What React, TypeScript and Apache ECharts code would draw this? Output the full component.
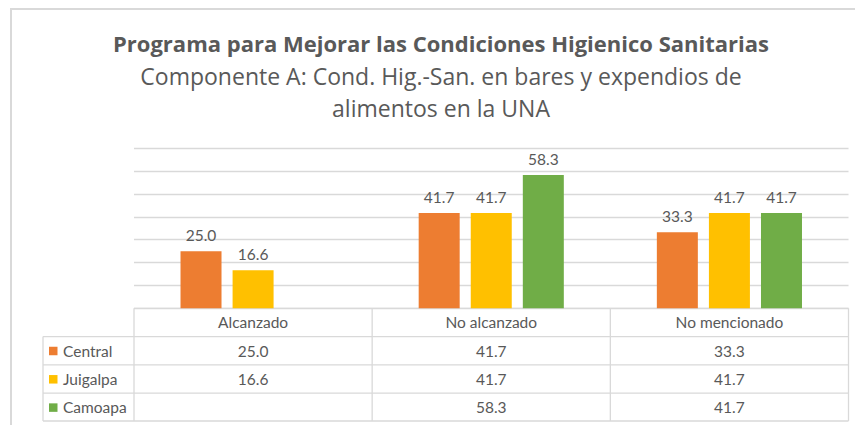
import React, { useEffect, useRef } from "react";
import * as echarts from "echarts";

const titleText = "Programa para Mejorar las Condiciones Higienico Sanitarias";
const subtitleLines = ["Componente A: Cond. Hig.-San. en bares y expendios de", "alimentos en la UNA"];
const categories = ["Alcanzado", "No alcanzado", "No mencionado"];
const seriesNames = ["Central", "Juigalpa", "Camoapa"];
const central = [25.0, 41.7, 33.3];
const juigalpa = [16.6, 41.7, 41.7];
const camoapa: (number | null)[] = [null, 58.3, 41.7];
const seriesColors = ["#ED7D31", "#FFC000", "#70AD47"];

const FONT = "Lato";
const TITLE_FONT = "'Open Sans'";
const TEXT = "#595959";
const LINE = "#d9d9d9";

export default function App() {
  const ref = useRef<HTMLDivElement>(null);
  useEffect(() => {
    if (!ref.current) return;
    const chart = echarts.init(ref.current, null, { renderer: "svg" });
    const seriesData = [central, juigalpa, camoapa];
    const gridLeft = 134;
    const gridRight = 848.5;
    const gridTop = 148.3;
    const gridBottom = 308.3;
    chart.setOption({
      animation: false,
      grid: { left: gridLeft, right: 855 - gridRight, top: gridTop, bottom: 425 - gridBottom },
      xAxis: {
        type: "category",
        data: categories,
        axisLine: { show: false },
        axisTick: { show: false },
        axisLabel: { show: false },
      },
      yAxis: {
        type: "value",
        min: 0,
        max: 70,
        interval: 10,
        axisLine: { show: false },
        axisTick: { show: false },
        axisLabel: { show: false },
        splitLine: { lineStyle: { color: LINE, width: 1.3 } },
      },
      series: seriesNames.map((name, i) => ({
        name,
        type: "bar",
        data: seriesData[i],
        barWidth: 41,
        barGap: "27%",
        itemStyle: { color: seriesColors[i] },
        label: {
          show: true,
          position: "top",
          distance: 8,
          fontFamily: FONT,
          fontSize: 15.5,
          color: TEXT,
          formatter: (p: any) => (p.value == null ? "" : Number(p.value).toFixed(1)),
        },
      })),
    });

    // Data table built from the axis scale
    const rowTop = gridBottom;
    const rowH = 28.3;
    const tableLeft = 43;
    const bandW = (gridRight - gridLeft) / categories.length;
    const centers = categories.map((c) => chart.convertToPixel({ xAxisIndex: 0 }, c) as number);
    const g: any[] = [];
    const line = (x1: number, y1: number, x2: number, y2: number, w = 1.3) =>
      g.push({ type: "line", shape: { x1, y1, x2, y2 }, style: { stroke: LINE, lineWidth: w }, silent: true });
    const nRows = seriesNames.length;
    const tableBottom = rowTop + rowH * (nRows + 1) - 0.5;
    line(gridLeft, rowTop, gridRight, rowTop);
    for (let r = 1; r <= nRows; r++) line(tableLeft, rowTop + rowH * r, gridRight, rowTop + rowH * r);
    line(tableLeft, tableBottom, gridRight, tableBottom);
    line(tableLeft, rowTop + rowH, tableLeft, tableBottom);
    for (let c = 0; c <= categories.length; c++) {
      const x = gridLeft + bandW * c;
      line(x, rowTop, x, tableBottom);
    }
    categories.forEach((c, i) => {
      g.push({
        type: "text",
        x: centers[i],
        y: rowTop + rowH / 2,
        style: { text: c, fontFamily: FONT, fontSize: 15.5, fill: TEXT, align: "center", verticalAlign: "middle" },
      });
    });
    seriesNames.forEach((name, r) => {
      const cy = rowTop + rowH * (r + 1) + rowH / 2;
      g.push({ type: "rect", shape: { x: 49, y: cy - 4, width: 8.5, height: 8.5 }, style: { fill: seriesColors[r] } });
      g.push({
        type: "text",
        x: 63,
        y: cy,
        style: { text: name, fontFamily: FONT, fontSize: 15.5, fill: TEXT, align: "left", verticalAlign: "middle" },
      });
      seriesData[r].forEach((v, i) => {
        if (v == null) return;
        g.push({
          type: "text",
          x: centers[i],
          y: cy,
          style: { text: Number(v).toFixed(1), fontFamily: FONT, fontSize: 15.5, fill: TEXT, align: "center", verticalAlign: "middle" },
        });
      });
    });
    g.push({ type: "line", shape: { x1: 11, y1: 9, x2: 855, y2: 9 }, style: { stroke: LINE, lineWidth: 2 } });
    g.push({ type: "line", shape: { x1: 11, y1: 8, x2: 11, y2: 425 }, style: { stroke: LINE, lineWidth: 2 } });
    g.push({
      type: "text",
      x: 441,
      y: 43,
      style: { text: titleText, fontFamily: TITLE_FONT, fontSize: 22, fontWeight: "bold", fill: TEXT, align: "center", verticalAlign: "middle" },
    });
    subtitleLines.forEach((t, i) => {
      g.push({
        type: "text",
        x: 441,
        y: 76 + i * 32,
        style: { text: t, fontFamily: TITLE_FONT, fontSize: 23, fill: TEXT, align: "center", verticalAlign: "middle" },
      });
    });
    chart.setOption({ graphic: g });
    return () => chart.dispose();
  }, []);
  return <div ref={ref} style={{ position: "fixed", left: 0, top: 0, width: 855, height: 425, background: "#fff" }} />;
}
